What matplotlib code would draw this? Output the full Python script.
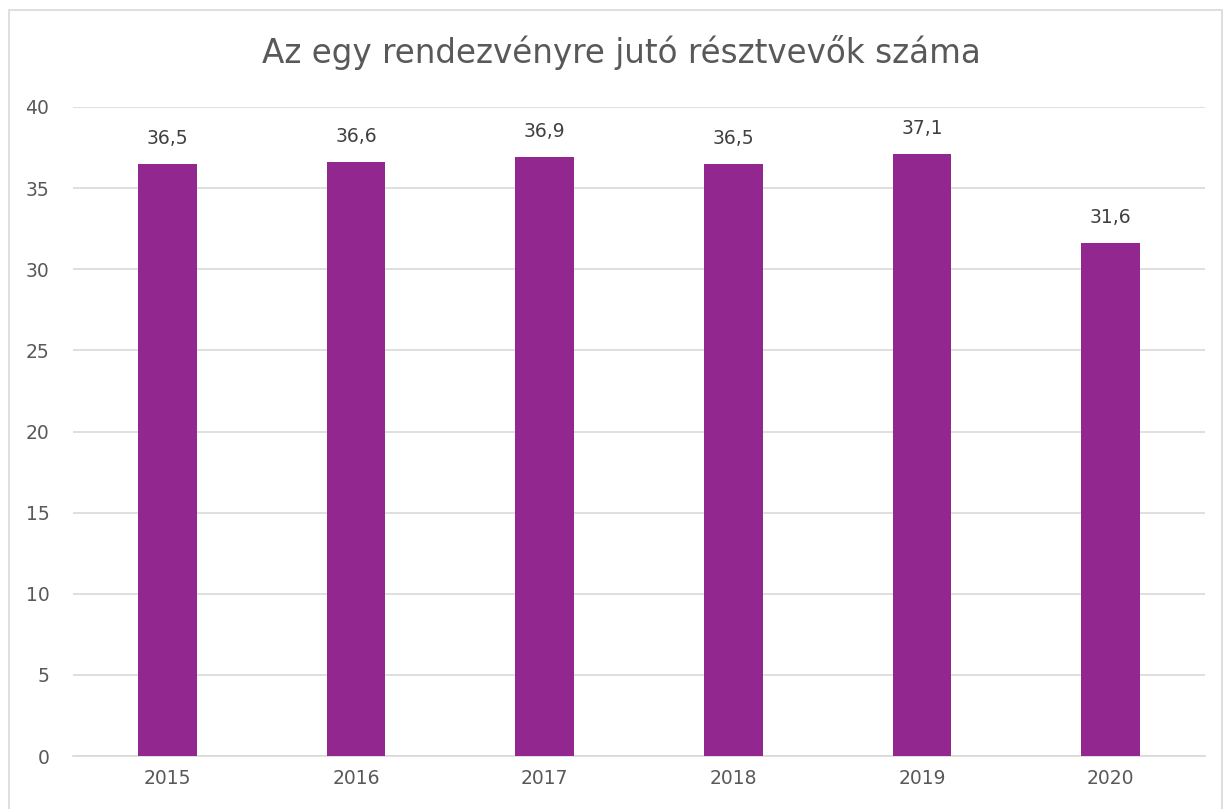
import matplotlib
matplotlib.use("Agg")
import matplotlib.pyplot as plt
from matplotlib.patches import Rectangle

years = ["2015", "2016", "2017", "2018", "2019", "2020"]
values = [36.5, 36.6, 36.9, 36.5, 37.1, 31.6]
labels = ["36,5", "36,6", "36,9", "36,5", "37,1", "31,6"]
title = "Az egy rendezvényre jutó résztvevők száma"

plt.rcParams['font.family'] = ['DejaVu Sans']
W, H = 1225, 809
fig = plt.figure(figsize=(W/100, H/100), dpi=100)
fig.patches.append(Rectangle((9/W, -0.05), (1222-9)/W, 1.05 - 10/H, transform=fig.transFigure,
                             fill=False, edgecolor="#d9d9d9", linewidth=1.2))
ax = fig.add_axes([73/W, 1 - 756/H, (1205-73)/W, (756-107)/H])
x = range(len(years))
ax.bar(x, values, width=0.31, color="#92278F", zorder=3)
for xi, v, lab in zip(x, values, labels):
    ax.text(xi, v + 1.0, lab, ha="center", va="bottom", fontsize=13.5, color="#404040")
ax.set_xlim(-0.5, len(years) - 0.5)
ax.set_ylim(0, 40)
ax.set_yticks(range(0, 41, 5))
ax.set_xticks(list(x))
ax.set_xticklabels(years)
ax.yaxis.grid(True, color="#d9d9d9", linewidth=1.2, zorder=0)
for s in ["top", "right", "left"]:
    ax.spines[s].set_visible(False)
ax.spines["bottom"].set_color("#d9d9d9")
ax.spines["bottom"].set_linewidth(1.2)
ax.tick_params(axis="both", length=0, labelsize=13.5, labelcolor="#595959")
ax.tick_params(axis="y", pad=17)
ax.tick_params(axis="x", pad=9)
fig.text(0.507, 1 - 52/H, title, ha="center", va="center", fontsize=23.5, color="#595959")
fig.savefig("out.png", dpi=100)
